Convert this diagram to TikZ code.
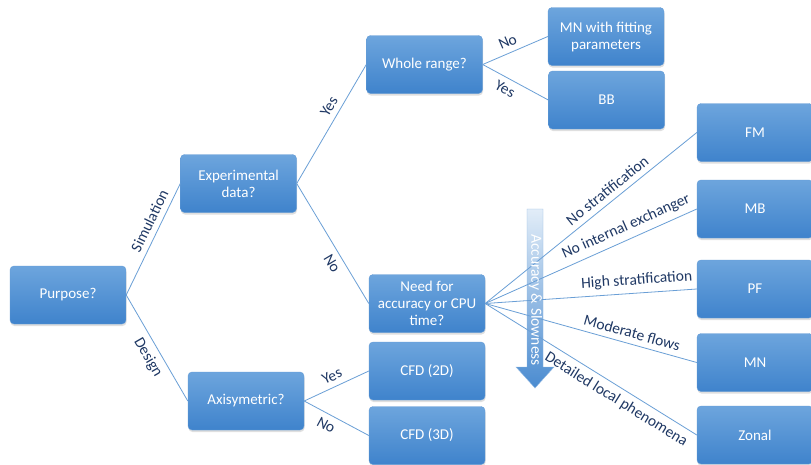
\documentclass[tikz,border=0pt]{standalone}
\usepackage{fontspec}
\setmainfont{Carlito}
\usetikzlibrary{shadows}
\definecolor{boxtop}{HTML}{6DA5DD}
\definecolor{boxbot}{HTML}{3F83CC}
\definecolor{linecol}{HTML}{6A9FD6}
\definecolor{labcol}{HTML}{1F3864}
\definecolor{arrtop}{HTML}{E2EDF8}
\definecolor{arrbot}{HTML}{4A8BD0}
\tikzset{
  box/.style={rounded corners=4pt, shading=axis, top color=boxtop, bottom color=boxbot,
    draw=boxbot!80!white, line width=0.4pt,
    drop shadow={shadow xshift=0.5pt, shadow yshift=-2pt, opacity=0.25},
    minimum width=116pt, minimum height=58pt, inner sep=2pt,
    text=white, align=center, font=\fontsize{15}{17}\selectfont},
  conn/.style={draw=linecol, line width=0.8pt},
  lab/.style={sloped, text=labcol, font=\fontsize{15.5}{17}\selectfont, inner sep=5.5pt}
}
\begin{document}
\begin{tikzpicture}[x=1pt,y=-1pt]
\clip (0,0) rectangle (811,464);
\fill[white] (0,0) rectangle (811,464);

% nodes
\node[box] (purpose) at (68,295) {Purpose?};
\node[box] (exp) at (238.5,183.5) {Experimental\\data?};
\node[box] (axi) at (246,401) {Axisymetric?};
\node[box] (whole) at (424.5,64.5) {Whole range?};
\node[box] (need) at (427,303.5) {Need for\\accuracy or CPU\\time?};
\node[box] (cfdtwo) at (427,371) {CFD (2D)};
\node[box] (cfdthree) at (427,435.5) {CFD (3D)};
\node[box] (mnfit) at (606,36.5) {MN with fitting\\parameters};
\node[box] (bb) at (606.5,100) {BB};
\node[box] (fm) at (755,132.5) {FM};
\node[box] (mb) at (755,209) {MB};
\node[box] (pf) at (755,289) {PF};
\node[box] (mn) at (755,362.5) {MN};
\node[box] (zonal) at (755,435) {Zonal};

% accuracy arrow
\shade[top color=arrtop, bottom color=arrbot, draw=arrbot!60!white, line width=0.4pt]
  (527,209) -- (543,209) -- (543,367) -- (554,367) -- (535,388) -- (516,367) -- (527,367) -- cycle;

% connectors
\draw[conn] (purpose.east) -- node[lab, above, pos=0.62] {Simulation} (exp.west);
\draw[conn] (purpose.east) -- node[lab, below, pos=0.53] {Design} (axi.west);
\draw[conn] (exp.east) -- node[lab, above, pos=0.6] {Yes} (whole.west);
\draw[conn] (exp.east) -- node[lab, below, pos=0.62] {No} (need.west);
\draw[conn] (whole.east) -- node[lab, above, pos=0.45] {No} (mnfit.west);
\draw[conn] (whole.east) -- node[lab, below, pos=0.42] {Yes} (bb.west);
\draw[conn] (axi.east) -- node[lab, above, pos=0.5] {Yes} (cfdtwo.west);
\draw[conn] (axi.east) -- node[lab, below, pos=0.42] {No} (cfdthree.west);
\draw[conn] (need.east) -- node[lab, above, pos=0.61] {No stratification} (fm.west);
\draw[conn] (need.east) -- node[lab, above, pos=0.69] {No internal exchanger} (mb.west);
\draw[conn] (need.east) -- node[lab, above, pos=0.72] {High stratification} (pf.west);
\draw[conn] (need.east) -- node[lab, above, pos=0.68] {Moderate flows} (mn.west);
\draw[conn] (need.east) -- node[lab, below, pos=0.65] {Detailed local phenomena} (zonal.west);

\node[rotate=-90, text=white, font=\fontsize{15.5}{17}\selectfont, inner sep=0pt] (acc) at (535.5,300) {Accuracy \& Slowness};
\end{tikzpicture}
\end{document}
